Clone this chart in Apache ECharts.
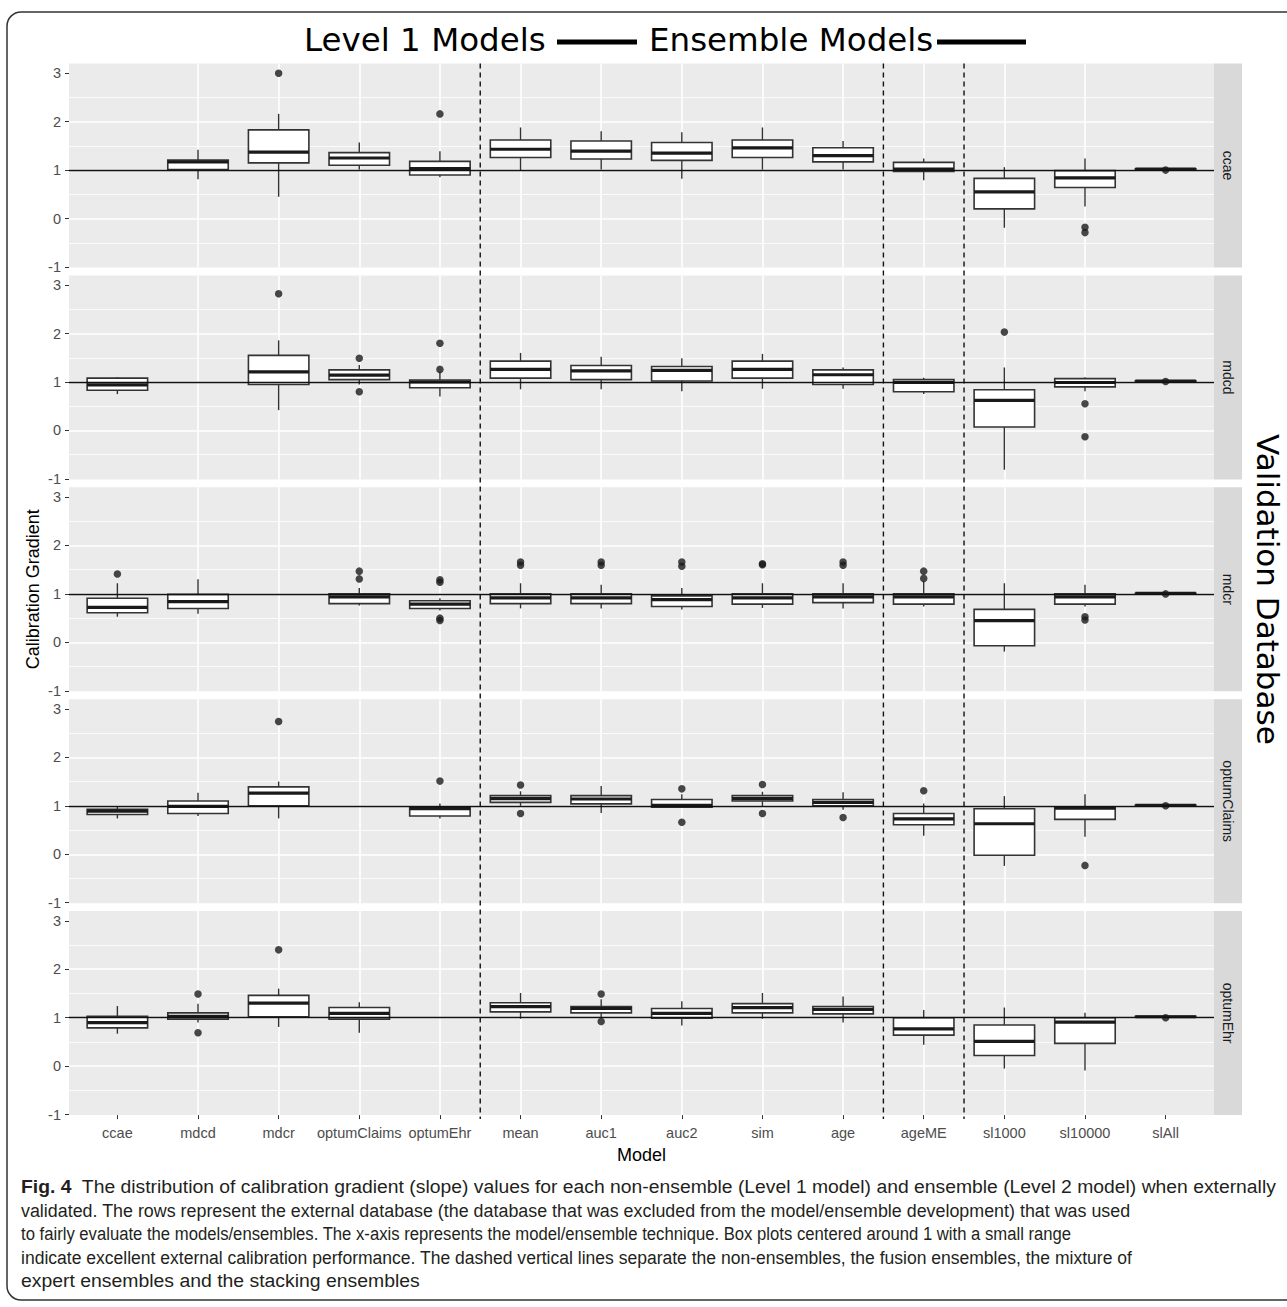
<!DOCTYPE html>
<html>
<head>
<meta charset="utf-8">
<title>Calibration gradient by validation database</title>
<script src="https://cdn.jsdelivr.net/npm/echarts@6/dist/echarts.min.js"></script>
<style>
  html, body { margin: 0; padding: 0; background: #fff; }
  #chart { width: 1287px; height: 1307px; }
</style>
</head>
<body>
<div id="chart"></div>
<script>
// x categories (models / ensembles)
const models = ["ccae", "mdcd", "mdcr", "optumClaims", "optumEhr", "mean", "auc1", "auc2",
  "sim", "age", "ageME", "sl1000", "sl10000", "slAll"];
// facet rows
const databases = ["ccae", "mdcd", "mdcr", "optumClaims", "optumEhr"];
const yTicks = [-1, 0, 1, 2, 3];
const refLine = 1;
// dashed separators between model groups (between category indexes)
const separators = [4.5, 9.5, 10.5];

// box stats per model: [min, Q1, median, Q3, max], null = model not validated there
const boxesCcae = [
  null,
  [0.81, 1.01, 1.17, 1.21, 1.42],
  [0.45, 1.15, 1.37, 1.83, 2.16],
  [1.01, 1.10, 1.25, 1.36, 1.57],
  [0.85, 0.90, 1.03, 1.18, 1.39],
  [1.00, 1.26, 1.43, 1.62, 1.88],
  [1.01, 1.23, 1.39, 1.60, 1.80],
  [0.82, 1.20, 1.35, 1.57, 1.78],
  [1.01, 1.26, 1.46, 1.62, 1.88],
  [1.01, 1.17, 1.30, 1.46, 1.60],
  [0.79, 0.97, 1.02, 1.16, 1.24],
  [-0.19, 0.20, 0.55, 0.83, 1.06],
  [0.25, 0.64, 0.84, 0.99, 1.24],
  [1.01, 1.015, 1.02, 1.025, 1.03]
];
const outliersCcae = [["mdcr", 3.0], ["optumEhr", 2.16], ["sl10000", -0.18], ["sl10000", -0.29], ["slAll", 1.0]];

const boxesMdcd = [
  [0.75, 0.83, 0.94, 1.08, 1.10],
  null,
  [0.42, 0.95, 1.21, 1.55, 1.86],
  [0.95, 1.05, 1.14, 1.25, 1.35],
  [0.70, 0.88, 1.00, 1.04, 1.21],
  [0.85, 1.08, 1.26, 1.43, 1.60],
  [0.85, 1.05, 1.23, 1.34, 1.52],
  [0.81, 1.02, 1.24, 1.32, 1.49],
  [0.86, 1.08, 1.26, 1.43, 1.58],
  [0.86, 0.95, 1.15, 1.25, 1.30],
  [0.75, 0.80, 0.99, 1.05, 1.09],
  [-0.81, 0.07, 0.62, 0.84, 1.30],
  [0.81, 0.90, 0.99, 1.07, 1.10],
  [1.01, 1.015, 1.02, 1.025, 1.03]
];
const outliersMdcd = [["mdcr", 2.82], ["optumClaims", 1.49], ["optumClaims", 0.80], ["optumEhr", 1.80],
  ["optumEhr", 1.26], ["sl1000", 2.03], ["sl10000", 0.55], ["sl10000", -0.13], ["slAll", 1.01]];

const boxesMdcr = [
  [0.53, 0.61, 0.72, 0.91, 1.22],
  [0.59, 0.70, 0.84, 0.99, 1.30],
  null,
  [0.76, 0.80, 0.94, 1.00, 1.12],
  [0.66, 0.70, 0.79, 0.86, 0.91],
  [0.70, 0.80, 0.92, 1.00, 1.22],
  [0.70, 0.80, 0.92, 1.00, 1.19],
  [0.68, 0.74, 0.88, 0.96, 1.12],
  [0.71, 0.79, 0.92, 1.00, 1.22],
  [0.70, 0.82, 0.94, 1.00, 1.22],
  [0.74, 0.79, 0.94, 1.00, 1.26],
  [-0.19, -0.07, 0.45, 0.68, 1.22],
  [0.74, 0.79, 0.94, 1.00, 1.19],
  [1.00, 1.005, 1.01, 1.015, 1.02]
];
const outliersMdcr = [["ccae", 1.41], ["optumClaims", 1.47], ["optumClaims", 1.31], ["optumEhr", 1.29],
  ["optumEhr", 1.24], ["optumEhr", 0.50], ["optumEhr", 0.45], ["mean", 1.66], ["mean", 1.59],
  ["auc1", 1.66], ["auc1", 1.59], ["auc2", 1.66], ["auc2", 1.57], ["sim", 1.62], ["sim", 1.60],
  ["age", 1.66], ["age", 1.59], ["ageME", 1.47], ["ageME", 1.32], ["sl10000", 0.53], ["sl10000", 0.46],
  ["slAll", 1.0]];

const boxesOptumClaims = [
  [0.74, 0.82, 0.89, 0.93, 0.99],
  [0.79, 0.84, 0.99, 1.10, 1.27],
  [0.74, 1.00, 1.26, 1.39, 1.50],
  null,
  [0.74, 0.79, 0.94, 0.98, 1.05],
  [1.00, 1.07, 1.15, 1.21, 1.30],
  [0.85, 1.04, 1.14, 1.21, 1.41],
  [0.96, 0.97, 1.01, 1.13, 1.24],
  [0.98, 1.10, 1.15, 1.21, 1.29],
  [0.92, 1.00, 1.07, 1.13, 1.28],
  [0.38, 0.61, 0.73, 0.84, 1.05],
  [-0.24, -0.02, 0.63, 0.94, 1.20],
  [0.36, 0.72, 0.95, 0.98, 1.24],
  [1.00, 1.005, 1.01, 1.015, 1.02]
];
const outliersOptumClaims = [["mdcr", 2.74], ["optumEhr", 1.51], ["mean", 1.43], ["mean", 0.84],
  ["auc2", 1.35], ["auc2", 0.66], ["sim", 1.44], ["sim", 0.84], ["age", 0.76], ["ageME", 1.31],
  ["sl10000", -0.23], ["slAll", 1.0]];

const boxesOptumEhr = [
  [0.67, 0.79, 0.90, 1.03, 1.24],
  [0.90, 0.97, 1.03, 1.10, 1.29],
  [0.81, 1.02, 1.30, 1.46, 1.60],
  [0.69, 0.97, 1.09, 1.21, 1.32],
  null,
  [0.98, 1.12, 1.23, 1.31, 1.51],
  [1.00, 1.10, 1.19, 1.23, 1.38],
  [0.84, 0.99, 1.09, 1.19, 1.34],
  [0.98, 1.10, 1.21, 1.29, 1.51],
  [0.90, 1.08, 1.17, 1.23, 1.44],
  [0.44, 0.64, 0.77, 1.00, 1.16],
  [-0.05, 0.22, 0.51, 0.85, 1.21],
  [-0.09, 0.47, 0.91, 1.00, 1.10],
  [1.00, 1.01, 1.02, 1.03, 1.03]
];
const outliersOptumEhr = [["mdcd", 1.49], ["mdcd", 0.69], ["mdcr", 2.40], ["auc1", 1.49], ["auc1", 0.92],
  ["slAll", 1.0]];

const panelBoxes = [boxesCcae, boxesMdcd, boxesMdcr, boxesOptumClaims, boxesOptumEhr];
const panelOutliers = [outliersCcae, outliersMdcd, outliersMdcr, outliersOptumClaims, outliersOptumEhr];

const captionLines = [
  "{b|Fig. 4}  The distribution of calibration gradient (slope) values for each non-ensemble (Level 1 model) and ensemble (Level 2 model) when externally",
  "validated. The rows represent the external database (the database that was excluded from the model/ensemble development) that was used",
  "to fairly evaluate the models/ensembles. The x-axis represents the model/ensemble technique. Box plots centered around 1 with a small range",
  "indicate excellent external calibration performance. The dashed vertical lines separate the non-ensembles, the fusion ensembles, the mixture of",
  "expert ensembles and the stacking ensembles"
];
// right end of each caption line in the printed figure
const captionLineEnds = [1277, 1131, 1073, 1133, 420];

// layout
const PLOT_LEFT = 69;
const PLOT_WIDTH = 1145;
const PANEL_TOP = 63.5;
const PANEL_PITCH = 211.9;
const PANEL_H = 204;
const STRIP_W = 28;
const X_MIN = -0.6, X_MAX = 13.6;
const Y_MIN = -1.01, Y_MAX = 3.2;
const BOX_WIDTH = 0.75;
const FONT = "'Liberation Sans', Arial, sans-serif";
const TITLE_FONT = "'DejaVu Sans', sans-serif";
const CAPTION_SIZE = 19;
const CAPTION_LEFT = 21;

function renderBox(params, api) {
  const x = api.value(0);
  const lo = api.coord([x, api.value(1)]);
  const q1 = api.coord([x, api.value(2)]);
  const med = api.coord([x, api.value(3)]);
  const q3 = api.coord([x, api.value(4)]);
  const hi = api.coord([x, api.value(5)]);
  const half = api.size([BOX_WIDTH, 0])[0] / 2;
  return {
    type: "group",
    children: [
      { type: "line", shape: { x1: lo[0], y1: lo[1], x2: q1[0], y2: q1[1] }, style: { stroke: "#333", lineWidth: 1.4 } },
      { type: "line", shape: { x1: q3[0], y1: q3[1], x2: hi[0], y2: hi[1] }, style: { stroke: "#333", lineWidth: 1.4 } },
      {
        type: "rect",
        shape: { x: q3[0] - half, y: q3[1], width: half * 2, height: q1[1] - q3[1] },
        style: { fill: "#fff", stroke: "#333", lineWidth: 1.6 }
      },
      { type: "line", shape: { x1: med[0] - half, y1: med[1], x2: med[0] + half, y2: med[1] }, style: { stroke: "#1a1a1a", lineWidth: 3.2 } }
    ]
  };
}

function renderSeparator(params, api) {
  const top = api.coord([api.value(0), 1]);
  const bottom = api.coord([api.value(0), 0]);
  return {
    type: "line",
    shape: { x1: top[0], y1: top[1], x2: bottom[0], y2: bottom[1] },
    style: { stroke: "#111", lineWidth: 1.4, lineDash: [5, 4] }
  };
}

const grids = [];
const xAxes = [];
const yAxes = [];
const series = [];
const graphics = [];
const xTickValues = models.map((m, i) => i);

databases.forEach((db, p) => {
  const top = PANEL_TOP + p * PANEL_PITCH;
  const isLast = p === databases.length - 1;
  grids.push({
    left: PLOT_LEFT, width: PLOT_WIDTH, top: top, height: PANEL_H,
    show: true, backgroundColor: "#EBEBEB", borderWidth: 0
  });
  xAxes.push({
    type: "value", gridIndex: p, min: X_MIN, max: X_MAX, position: "bottom",
    splitNumber: 14, minInterval: 1, maxInterval: 1,
    axisLine: { show: false, onZero: false },
    axisTick: { show: isLast, length: 4, lineStyle: { color: "#333", width: 1 }, customValues: xTickValues },
    axisLabel: {
      show: isLast, customValues: xTickValues, hideOverlap: false,
      formatter: v => models[v] || "", color: "#4d4d4d", fontSize: 14.5, fontFamily: FONT, margin: 10
    },
    splitLine: { show: true, showMinLine: false, showMaxLine: false, lineStyle: { color: "#fff", width: 1.6 } },
    name: isLast ? "Model" : "",
    nameLocation: "middle", nameGap: 31,
    nameTextStyle: { fontSize: 18, color: "#000", fontFamily: FONT }
  });
  yAxes.push({
    type: "value", gridIndex: p, min: Y_MIN, max: Y_MAX, position: "left",
    splitNumber: 4, minInterval: 1, maxInterval: 1,
    axisLine: { show: false, onZero: false },
    axisTick: { show: true, length: 4, lineStyle: { color: "#333", width: 1 }, customValues: yTicks },
    axisLabel: { customValues: yTicks, color: "#4d4d4d", fontSize: 14.5, fontFamily: FONT, margin: 8 },
    splitLine: { show: true, showMinLine: false, showMaxLine: false, lineStyle: { color: "#fff", width: 1.6 } }
  });
  // minor grid lines half way between the major ones
  yAxes.push({
    type: "value", gridIndex: p, min: Y_MIN + 0.5, max: Y_MAX + 0.5,
    splitNumber: 4, minInterval: 1, maxInterval: 1, position: "right",
    axisLine: { show: false, onZero: false }, axisTick: { show: false }, axisLabel: { show: false },
    splitLine: { show: true, showMinLine: false, showMaxLine: false, lineStyle: { color: "#fff", width: 0.8 } }
  });

  const boxData = [];
  panelBoxes[p].forEach((b, i) => {
    if (b) boxData.push([i].concat(b));
  });
  series.push({
    type: "custom", name: db + " boxes", xAxisIndex: p, yAxisIndex: p * 2,
    renderItem: renderBox, data: boxData, z: 3,
    encode: { x: 0, y: [1, 2, 3, 4, 5] }
  });
  series.push({
    type: "scatter", name: db + " outliers", xAxisIndex: p, yAxisIndex: p * 2,
    data: panelOutliers[p].map(o => [models.indexOf(o[0]), o[1]]),
    symbol: "circle", symbolSize: 7.5, itemStyle: { color: "#1a1a1a" }, z: 4,
    markLine: {
      silent: true, symbol: ["none", "none"], label: { show: false },
      lineStyle: { color: "#111", width: 1.4, type: "solid" },
      data: [{ yAxis: refLine }]
    }
  });

  // facet strip
  graphics.push({
    type: "rect", left: PLOT_LEFT + PLOT_WIDTH, top: top,
    shape: { width: STRIP_W, height: PANEL_H }, style: { fill: "#D9D9D9" }, silent: true
  });
  graphics.push({
    type: "text", x: PLOT_LEFT + PLOT_WIDTH + STRIP_W / 2, y: top + PANEL_H / 2, rotation: -Math.PI / 2,
    style: { text: db, font: "14px " + FONT, fill: "#1a1a1a", align: "center", verticalAlign: "middle" }
  });
});

// overlay grid for the dashed separators that run through all panels
const lastBottom = PANEL_TOP + 4 * PANEL_PITCH + PANEL_H;
grids.push({ left: PLOT_LEFT, width: PLOT_WIDTH, top: PANEL_TOP, height: lastBottom + 4 - PANEL_TOP });
xAxes.push({ type: "value", gridIndex: 5, min: X_MIN, max: X_MAX, show: false });
yAxes.push({ type: "value", gridIndex: 5, min: 0, max: 1, show: false });
series.push({
  type: "custom", name: "separators", xAxisIndex: 5, yAxisIndex: yAxes.length - 1,
  renderItem: renderSeparator, data: separators.map(s => [s, 1]), z: 10
});

// title with thick bars
graphics.push({ type: "text", x: 304, y: 40, style: { text: "Level 1 Models", font: "32.5px " + TITLE_FONT, fill: "#000", align: "left", verticalAlign: "middle" } });
graphics.push({ type: "rect", shape: { x: 557, y: 39.5, width: 80, height: 5 }, style: { fill: "#000" } });
graphics.push({ type: "text", x: 649, y: 40, style: { text: "Ensemble Models", font: "32.5px " + TITLE_FONT, fill: "#000", align: "left", verticalAlign: "middle" } });
graphics.push({ type: "rect", shape: { x: 937, y: 39.5, width: 89, height: 5 }, style: { fill: "#000" } });

// right side facet title and y title
graphics.push({
  type: "text", x: 1268, y: (PANEL_TOP + lastBottom) / 2, rotation: -Math.PI / 2,
  style: { text: "Validation Database", font: "31px " + TITLE_FONT, fill: "#000", align: "center", verticalAlign: "middle" }
});
graphics.push({
  type: "text", x: 33, y: (PANEL_TOP + lastBottom) / 2, rotation: Math.PI / 2,
  style: { text: "Calibration Gradient", font: "18px " + FONT, fill: "#000", align: "center", verticalAlign: "middle" }
});

// caption, each line squeezed to the width it has in the condensed journal font
const measureCtx = document.createElement("canvas").getContext("2d");
function captionWidth(line) {
  let w = 0;
  let rest = line;
  if (line.indexOf("{b|") === 0) {
    measureCtx.font = "bold " + CAPTION_SIZE + "px " + FONT;
    w += measureCtx.measureText("Fig. 4").width;
    rest = line.replace("{b|Fig. 4}", "");
  }
  measureCtx.font = CAPTION_SIZE + "px " + FONT;
  return w + measureCtx.measureText(rest).width;
}
captionLines.forEach((line, k) => {
  const scale = (captionLineEnds[k] - CAPTION_LEFT) / captionWidth(line);
  graphics.push({
    type: "text", x: CAPTION_LEFT, y: 1187 + k * 23.3, scaleX: scale,
    style: {
      text: line, font: CAPTION_SIZE + "px " + FONT, fill: "#231f20", align: "left", verticalAlign: "middle",
      rich: { b: { fontWeight: "bold", fontSize: CAPTION_SIZE, fontFamily: FONT, fill: "#231f20" } }
    }
  });
});

// rounded figure border
graphics.push({
  type: "rect", shape: { x: 7, y: 12, width: 1300, height: 1288, r: 14 },
  style: { fill: null, stroke: "#333", lineWidth: 1.5 }, silent: true, z: -1
});

const chart = echarts.init(document.getElementById("chart"), null, { renderer: "svg" });
chart.setOption({
  animation: false,
  backgroundColor: "#fff",
  textStyle: { fontFamily: FONT },
  grid: grids,
  xAxis: xAxes,
  yAxis: yAxes,
  series: series,
  graphic: graphics
});
</script>
</body>
</html>
